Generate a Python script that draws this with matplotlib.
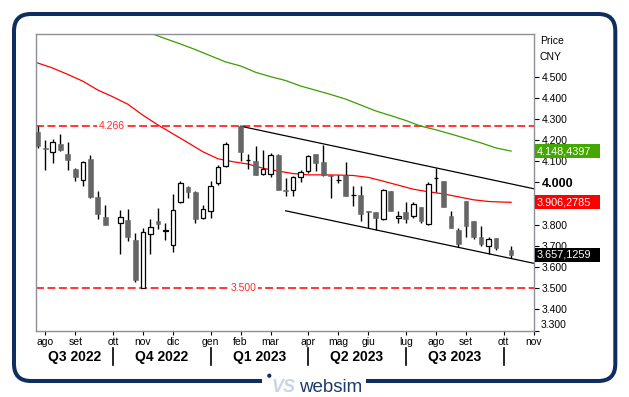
"""
Weekly CNY candlestick chart: 26/52 week averages, falling channel,
support/resistance levels and websim-style frame.
"""
import matplotlib
matplotlib.use("Agg")  # headless

import matplotlib.pyplot as plt  # noqa: E402
import numpy as np  # noqa: E402
import pandas as pd  # noqa: E402
from matplotlib.patches import Rectangle, FancyBboxPatch, Circle  # noqa: E402
from matplotlib.transforms import Affine2D, blended_transform_factory  # noqa: E402

plt.rcParams["font.family"] = ["Liberation Sans", "DejaVu Sans"]

W, H = 629, 397
NAVY = "#0d2e5e"

# ── data ─────────────────────────────────────────────────────────────────────
START = "2022-07-29"       # first weekly bar (Friday)
END = "2023-10-13"         # last weekly bar
closed_weeks = ["2022-10-07", "2023-01-27", "2023-10-06"]  # market holidays

opens = [4.237, 4.163, 4.145, 4.184, 4.136, 4.064, 4.010, 4.113, 3.931, 3.835,
         3.808, 3.824, 3.729, 3.503, 3.756, 3.819, 3.772, 3.704, 3.906, 3.979,
         3.956, 3.832, 3.866, 3.998, 4.080,
         4.266, 4.105, 4.103, 4.040, 4.040, 4.132, 3.966, 3.963, 4.026, 4.056,
         4.136, 4.095, 4.034, 4.012, 4.034, 3.941, 3.942, 3.865, 3.860, 3.828,
         3.961, 3.832, 3.858, 3.843, 3.884, 3.805, 4.020, 4.005, 3.843, 3.776,
         3.914, 3.816, 3.742, 3.700, 3.737, 3.682]
highs = [4.266, 4.200, 4.206, 4.227, 4.190, 4.070, 4.100, 4.132, 3.961, 3.895,
         3.868, 3.874, 3.761, 3.784, 3.827, 3.879, 3.808, 3.945, 4.005, 3.985,
         3.960, 3.895, 4.005, 4.084, 4.192,
         4.266, 4.135, 4.171, 4.155, 4.140, 4.136, 4.021, 4.032, 4.061, 4.132,
         4.136, 4.179, 4.037, 4.037, 4.095, 3.985, 3.985, 3.865, 3.860, 3.971,
         3.961, 3.863, 3.906, 3.906, 3.884, 4.000, 4.069, 4.005, 3.866, 3.784,
         3.914, 3.816, 3.792, 3.740, 3.737, 3.700]
lows = [4.163, 4.057, 4.092, 4.150, 4.057, 4.005, 3.981, 3.925, 3.828, 3.800,
        3.661, 3.721, 3.531, 3.500, 3.663, 3.780, 3.729, 3.669, 3.903, 3.925,
        3.808, 3.825, 3.832, 3.990, 4.073,
        4.100, 4.064, 4.034, 4.034, 4.024, 3.966, 3.934, 3.934, 4.001, 4.045,
        4.053, 4.029, 3.927, 3.998, 3.934, 3.887, 3.816, 3.784, 3.776, 3.824,
        3.863, 3.808, 3.808, 3.832, 3.808, 3.799, 3.955, 3.884, 3.784, 3.694,
        3.742, 3.735, 3.700, 3.661, 3.682, 3.642]
closes = [4.171, 4.158, 4.192, 4.152, 4.105, 4.024, 4.095, 3.929, 3.852, 3.800,
          3.839, 3.740, 3.539, 3.765, 3.789, 3.803, 3.774, 3.871, 3.998, 3.953,
          3.827, 3.874, 3.983, 4.072, 4.184,
          4.143, 4.108, 4.034, 4.064, 4.132, 3.966, 3.958, 4.026, 4.048, 4.127,
          4.092, 4.037, 4.031, 4.014, 3.934, 3.943, 3.851, 3.861, 3.832, 3.966,
          3.863, 3.843, 3.827, 3.900, 3.819, 3.994, 4.022, 3.884, 3.784, 3.710,
          3.792, 3.742, 3.709, 3.735, 3.690, 3.6571259]

# moving averages, sampled at week numbers counted from START
ma_red_week = [0, 2, 4, 6, 8, 10, 12, 14, 16, 18, 20, 22, 24, 26, 28, 30, 32,
               34, 36, 38, 40, 42, 44, 46, 48, 50, 52, 54, 56, 58, 60, 62, 63]
ma_red = [4.565, 4.541, 4.511, 4.479, 4.437, 4.405, 4.370, 4.318, 4.272,
          4.230, 4.188, 4.145, 4.112, 4.098, 4.087, 4.067, 4.054, 4.042,
          4.036, 4.036, 4.035, 4.033, 4.024, 4.006, 3.987, 3.968, 3.956,
          3.946, 3.932, 3.918, 3.910, 3.907, 3.9062785]
ma_green_week = [15, 17, 19, 21, 23, 25, 27, 29, 31, 33, 35, 37, 39, 41, 43,
                 45, 47, 49, 51, 53, 55, 57, 59, 61, 63]
ma_green = [4.706, 4.680, 4.655, 4.628, 4.599, 4.570, 4.551, 4.521, 4.500,
            4.482, 4.456, 4.436, 4.416, 4.394, 4.366, 4.338, 4.316, 4.293,
            4.266, 4.249, 4.229, 4.208, 4.187, 4.163, 4.1484397]

# channel anchors (week, price)
upper_anchor = [(27, 4.266), (53, 4.069)]
lower_anchor = [(33, 3.866), (60, 3.663)]

levels = [4.266, 3.500]
level_label_week = [9.9, 27.4]

month_labels = ["ago", "set", "ott", "nov", "dic", "gen", "feb", "mar", "apr",
                "mag", "giu", "lug", "ago", "set", "ott", "nov"]
quarter_labels = ["Q3 2022", "Q4 2022", "Q1 2023", "Q2 2023", "Q3 2023"]

y_ticks = [3.3, 3.4, 3.5, 3.6, 3.7, 3.8, 3.9, 4.0, 4.1, 4.2, 4.3, 4.4, 4.5]
y_hidden = [3.3, 3.9]   # 3.3 drawn apart, 3.9 sits under the red tag

# ── helpers ──────────────────────────────────────────────────────────────────
t0 = pd.Timestamp(START)


def week_no(dates):
    return np.array([(pd.Timestamp(d) - t0).days / 7 for d in dates])


def fmt_tag(v):
    s = f"{v:.7f}"
    return s[:5] + "," + s[5:]


def extend(anchor, x_end):
    (x0, y0), (x1, y1) = anchor
    slope = (y1 - y0) / (x1 - x0)
    return [x0, x_end], [y0, y0 + slope * (x_end - x0)]


fridays = pd.date_range(START, END, freq="W-FRI")
fridays = fridays[~fridays.isin(pd.to_datetime(closed_weeks))]
x = week_no(fridays)
o, hi, lo, c = map(np.array, (opens, highs, lows, closes))

month_first = pd.date_range("2022-08-01", periods=len(month_labels), freq="MS")
month_ticks = week_no([d + pd.offsets.Week(weekday=4) if d.weekday() != 4 else d
                       for d in month_first])

# ── figure ───────────────────────────────────────────────────────────────────
fig = plt.figure(figsize=(W / 100, H / 100), dpi=100)
ax = fig.add_axes([35.5 / W, (H - 330.5) / H, 498.5 / W, 296.5 / H])
ax.set_xlim(-0.29, 66.05)
ax.set_ylim(3.30, 4.702)
for sp in ax.spines.values():
    sp.set_color("#8e8e9c")
    sp.set_linewidth(1.0)

# levels
for lvl, wk in zip(levels, level_label_week):
    ax.axhline(lvl, color="#ff0000", lw=1.1, ls=(0, (5.2, 2.3)), zorder=1)
    ax.text(wk, lvl, f"{lvl:.3f}", color="#ff2a2a", fontsize=7.5,
            ha="center", va="center", zorder=1.5,
            bbox=dict(fc="white", ec="none", pad=1.2))

# averages
ax.plot(ma_red_week, ma_red, color="#ff0000", lw=0.9, zorder=2)
ax.plot(ma_green_week, ma_green, color="#3c9c00", lw=0.9, zorder=2)

# channel
x_end = ax.get_xlim()[1]
for anchor in (upper_anchor, lower_anchor):
    ax.plot(*extend(anchor, x_end), color="black", lw=0.9, zorder=2)

# candles
up = c >= o
body_lo = np.minimum(o, c)
body_h = np.maximum(np.abs(c - o), 0.002)
ax.vlines(x, lo, hi, color="black", lw=1.0, zorder=3)
ax.bar(x[up], body_h[up], bottom=body_lo[up], width=0.6,
       facecolor="white", edgecolor="black", lw=0.9, zorder=4)
ax.bar(x[~up], body_h[~up], bottom=body_lo[~up], width=0.64,
       facecolor="#666666", edgecolor="#666666", lw=0.4, zorder=4)

# y axis on the right
ax.yaxis.tick_right()
ax.set_yticks(y_ticks)
ax.set_yticklabels(["" if t in y_hidden else f"{t:.3f}" for t in y_ticks])
ax.tick_params(axis="y", direction="out", length=3.6, width=0.8, pad=2,
               labelsize=7.5)
for lab in ax.get_yticklabels():
    if lab.get_text() == "4.000":
        lab.set_fontweight("bold")
        lab.set_fontsize(9)
ax.annotate("3.300", xy=(1.0, 3.3), xycoords=("axes fraction", "data"),
            xytext=(6.5, 5.5), textcoords="offset pixels", fontsize=7.5,
            ha="left", va="center", annotation_clip=False)

# x axis: months + quarters
ax.set_xticks(month_ticks)
ax.set_xticklabels(month_labels)
ax.tick_params(axis="x", direction="out", length=3, width=0.8, pad=1.5,
               labelsize=7.5)
bx = blended_transform_factory(ax.transData, ax.transAxes)
seps = [month_ticks[i] for i in (2, 5, 8, 11, 14)]
for s in seps:
    ax.plot([s, s], [-0.059, -0.116], color="black", lw=1.2,
            transform=bx, clip_on=False)
edges = [ax.get_xlim()[0]] + seps
for q, a, b in zip(quarter_labels, edges[:-1], edges[1:]):
    ax.text((a + b) / 2, -0.089, q, transform=bx, ha="center", va="center",
            fontsize=10, fontweight="bold")

# price tags on the right axis
by = blended_transform_factory(ax.transAxes, ax.transData)
tag_h = 14 / 211.6
for val, col in ((ma_green[-1], "#44a800"), (ma_red[-1], "#ff0000"),
                 (closes[-1], "#000000")):
    ax.add_patch(Rectangle((1.002, val - tag_h / 2), 0.1304, tag_h,
                           transform=by, fc=col, ec="none", clip_on=False,
                           zorder=5))
    ax.text(1.005, val, fmt_tag(val), transform=by, color="white",
            fontsize=7.8, ha="left", va="center", clip_on=False, zorder=6)

# header of price axis + frame + logo, in pixel coordinates
px = Affine2D().scale(1 / W, 1 / H) + fig.transFigure
fig.text(540, H - 41, "Price", transform=px, fontsize=7.5, va="center")
fig.text(539.5, H - 57, "CNY", transform=px, fontsize=7.5, va="center")

fig.add_artist(FancyBboxPatch((14, H - 381), 601.3, 367,
                              boxstyle="round,pad=0,rounding_size=17",
                              transform=px, fill=False, ec=NAVY, lw=2.9))
fig.add_artist(Rectangle((261.5, H - 388), 104.5, 14, transform=px,
                         fc="white", ec="none", zorder=3))
fig.add_artist(Circle((269.3, H - 375.7), 2.1, transform=px, fc=NAVY,
                      ec="none", zorder=4))
fig.text(271.5, H - 391.5, "VS", transform=px, fontsize=13,
         fontweight="bold", fontstyle="italic", color="#c9d5e5", zorder=4)
fig.text(299.5, H - 391.5, "websim", transform=px, fontsize=13.5,
         color="#1f3b6f", zorder=4)

fig.savefig("out.png", dpi=100)
